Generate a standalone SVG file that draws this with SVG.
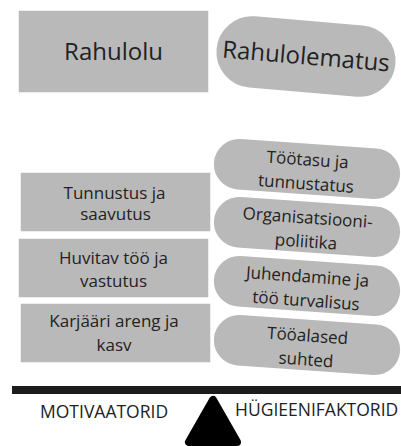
<svg xmlns="http://www.w3.org/2000/svg" width="401" height="446" viewBox="0 0 401 446">
<style>
.box{fill:#b9b9b9;stroke:#ffffff;stroke-width:1.5}
.t{font-family:"Open Sans","Liberation Sans",sans-serif;fill:#222222;text-anchor:middle}
.s{font-size:17px}
.l{font-size:24px}
.lab{font-family:"Open Sans","Liberation Sans",sans-serif;fill:#222222;font-size:17.5px}
</style>
<rect width="401" height="446" fill="#ffffff"/>
<g id="rahulolu">
<rect class="box" x="18" y="10" width="191" height="83"/>
<text class="t l" x="113.5" y="60">Rahulolu</text>
</g>
<g id="rahulolematus" transform="translate(306,56.5) rotate(4.8)">
<rect class="box" x="-90.5" y="-36.5" width="181" height="73" rx="36.5"/>
<text class="t l" x="0" y="8">Rahulolematus</text>
</g>
<g id="tunnustus">
<rect class="box" x="20" y="172" width="191" height="60"/>
<text class="t s" x="114.5" y="199">Tunnustus ja</text>
<text class="t s" x="115.5" y="220">saavutus</text>
</g>
<g id="huvitav">
<rect class="box" x="18" y="238" width="191" height="60"/>
<text class="t s" x="113.5" y="264">Huvitav töö ja</text>
<text class="t s" x="113.5" y="287">vastutus</text>
</g>
<g id="karjaari">
<rect class="box" x="20" y="303" width="191" height="60"/>
<text class="t s" x="114" y="327">Karjääri areng ja</text>
<text class="t s" x="114" y="351">kasv</text>
</g>
<g id="tootasu" transform="translate(307,169) rotate(4)">
<rect class="box" x="-94" y="-26" width="188" height="52" rx="26"/>
<text class="t s" x="0" y="-3.5">Töötasu ja</text>
<text class="t s" x="0" y="20.5">tunnustatus</text>
</g>
<g id="organisatsioon" transform="translate(307,227) rotate(4)">
<rect class="box" x="-94" y="-26" width="188" height="52" rx="26"/>
<text class="t s" x="0" y="-3.5">Organisatsiooni-</text>
<text class="t s" x="0" y="20.5">poliitika</text>
</g>
<g id="juhendamine" transform="translate(307,286) rotate(4)">
<rect class="box" x="-94" y="-26" width="188" height="52" rx="26"/>
<text class="t s" x="0" y="-3.5">Juhendamine ja</text>
<text class="t s" x="0" y="20.5">töö turvalisus</text>
</g>
<g id="tooalased" transform="translate(307,345) rotate(4)">
<rect class="box" x="-94" y="-26" width="188" height="52" rx="26"/>
<text class="t s" x="0" y="-3.5">Tööalased</text>
<text class="t s" x="0" y="20.5">suhted</text>
</g>
<g id="connectors"></g>
<g id="balance">
<rect x="12" y="386" width="389" height="8" fill="#1c1c1c"/>
<polygon points="213,400 189,442 237,442" fill="#000000" stroke="#000000" stroke-width="8" stroke-linejoin="round"/>
</g>
<g id="labels">
<text class="lab" x="40" y="418">MOTIVAATORID</text>
<text class="lab" x="235" y="416">HÜGIEENIFAKTORID</text>
</g>
</svg>
